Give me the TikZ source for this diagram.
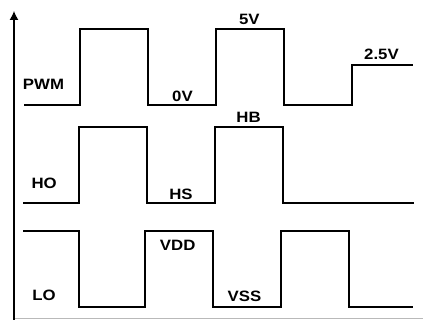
\documentclass[tikz,border=0pt]{standalone}
\usepackage{fontspec}
\setmainfont{Liberation Sans}[FakeStretch=1.12]
\usetikzlibrary{arrows.meta}

\begin{document}
\begin{tikzpicture}[
    x=1pt, y=-1pt,
    every node/.style={font=\fontsize{15}{18}\selectfont\bfseries, inner sep=0pt},
    wave/.style={line width=1.2pt, draw=black},
    axis/.style={-{Latex[length=9pt,width=9pt]}, line width=1.2pt, draw=black}
]
    \useasboundingbox (0,0) rectangle (423,320);

    % axes
    \draw [gray!55, line width=1pt] (14,319) -- (423,319);
    \draw [axis] (14,320) -- (14,11);

    % PWM
    \draw [wave] (24,105) -- (80,105) -- (80,29) -- (148,29) -- (148,105) -- (216,105)
        -- (216,29) -- (284,29) -- (284,105) -- (352,105) -- (352,65) -- (413,65);
    \node (pwm) at (43.5,84.7) {PWM};
    \node (zero) at (182.5,96.7) {0V};
    \node (five) at (249.3,19.7) {5V};
    \node (half) at (381.5,54.3) {2.5V};

    % HO
    \draw [wave] (23,203) -- (79,203) -- (79,127) -- (147,127) -- (147,203) -- (215,203)
        -- (215,127) -- (283,127) -- (283,203) -- (414,203);
    \node (ho) at (44.2,183.8) {HO};
    \node (hs) at (181,194.5) {HS};
    \node (hb) at (248.5,117.5) {HB};

    % LO
    \draw [wave] (23,231) -- (79,231) -- (79,307) -- (145,307) -- (145,231) -- (213,231)
        -- (213,307) -- (281,307) -- (281,231) -- (349,231) -- (349,307) -- (413,307);
    \node (lo) at (44,295.7) {LO};
    \node (vdd) at (177.7,245.5) {VDD};
    \node (vss) at (244.5,296) {VSS};
\end{tikzpicture}
\end{document}
